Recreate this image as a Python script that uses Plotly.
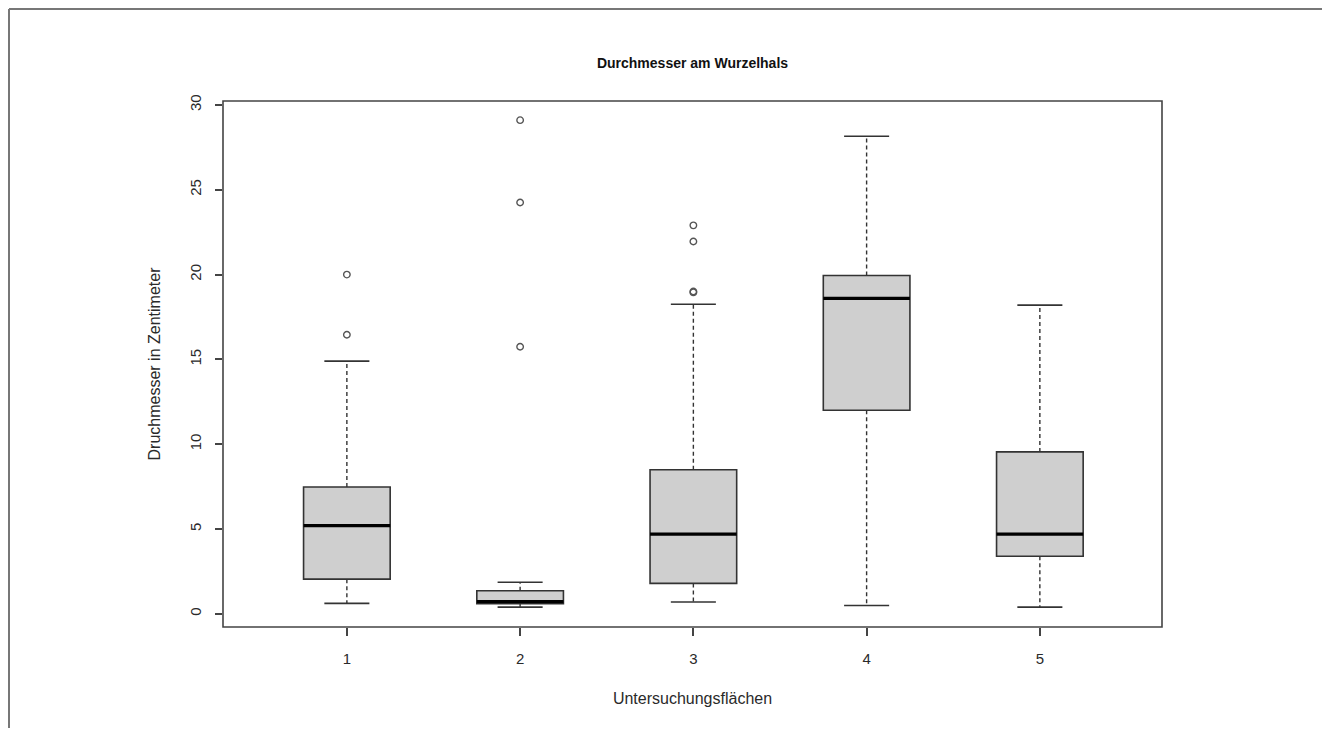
import plotly.graph_objects as go

# ---- data ----
groups = [1, 2, 3, 4, 5]
lower_whisker = [0.62, 0.40, 0.70, 0.50, 0.40]
q1 = [2.05, 0.60, 1.80, 12.00, 3.40]
median = [5.20, 0.72, 4.70, 18.60, 4.70]
q3 = [7.48, 1.37, 8.50, 19.95, 9.55]
upper_whisker = [14.90, 1.87, 18.25, 28.15, 18.20]

outlier_group = [1, 1, 2, 2, 2, 3, 3, 3, 3]
outlier_value = [16.45, 20.0, 15.75, 24.25, 29.1, 18.95, 19.0, 21.95, 22.9]

y_ticks = [0, 5, 10, 15, 20, 25, 30]
x_tick_labels = ["1", "2", "3", "4", "5"]

title_text = "Durchmesser am Wurzelhals"
x_title = "Untersuchungsflächen"
y_title = "Druchmesser in Zentimeter"

BOX_HALF = 0.25
CAP_HALF = 0.13
LINE_COL = "#333333"
FILL_COL = "#cfcfcf"
FONT = "Liberation Sans, Arial, sans-serif"
TXT = "#2a2a2a"

fig = go.Figure()
shapes = []

for g, lo, a, m, b, hi in zip(groups, lower_whisker, q1, median, q3, upper_whisker):
    # dashed whiskers
    fig.add_trace(go.Scatter(x=[g, g, None, g, g], y=[b, hi, None, a, lo], mode="lines",
                             line=dict(color=LINE_COL, width=1.4, dash="4px,3px"),
                             showlegend=False, hoverinfo="skip"))
    # caps
    fig.add_trace(go.Scatter(x=[g - CAP_HALF, g + CAP_HALF, None, g - CAP_HALF, g + CAP_HALF],
                             y=[hi, hi, None, lo, lo], mode="lines",
                             line=dict(color=LINE_COL, width=1.6),
                             showlegend=False, hoverinfo="skip"))
    # box
    shapes.append(dict(type="rect", xref="x", yref="y", x0=g - BOX_HALF, x1=g + BOX_HALF,
                       y0=a, y1=b, fillcolor=FILL_COL, line=dict(color=LINE_COL, width=1.6),
                       layer="above"))
    # median
    shapes.append(dict(type="line", xref="x", yref="y", x0=g - BOX_HALF, x1=g + BOX_HALF,
                       y0=m, y1=m, line=dict(color="#000000", width=3.2), layer="above"))

fig.add_trace(go.Scatter(x=outlier_group, y=outlier_value, mode="markers",
                         marker=dict(symbol="circle-open", size=6.5, color="#555555",
                                     line=dict(width=1.4, color="#555555")),
                         showlegend=False, hoverinfo="skip"))

# plot frame (R box())
shapes.append(dict(type="rect", xref="paper", yref="paper", x0=0, x1=1, y0=0, y1=1,
                   line=dict(color="#444444", width=1.6), layer="above"))

# outer image frame (top & left)
W, H = 1314, 720
ML, MR, MT, MB = 215, 160, 93, 101
pw, ph = W - ML - MR, H - MT - MB
px0 = (1 - ML) / pw
py0 = 1 + (MT - 1) / ph
shapes.append(dict(type="line", xref="paper", yref="paper", x0=px0, x1=(W - ML) / pw,
                   y0=py0, y1=py0, line=dict(color="#777777", width=2)))
shapes.append(dict(type="line", xref="paper", yref="paper", x0=px0, x1=px0,
                   y0=py0, y1=-(MB) / ph, line=dict(color="#777777", width=2)))

fig.update_layout(
    width=W, height=H, autosize=False,
    margin=dict(l=ML, r=MR, t=MT, b=MB, pad=0),
    paper_bgcolor="white", plot_bgcolor="white",
    shapes=shapes,
    title=dict(text="<b>" + title_text + "</b>", x=(ML + pw / 2) / W, xanchor="center",
               y=1 - 55 / H, yanchor="middle",
               font=dict(family=FONT, size=14, color="#111111")),
    font=dict(family=FONT, size=15, color=TXT),
)

fig.update_xaxes(range=[0.285, 5.705], tickvals=groups, ticktext=x_tick_labels,
                 ticks="outside", ticklen=8, tickcolor="#444444", tickwidth=1.5,
                 ticklabelstandoff=10,
                 showgrid=False, zeroline=False, showline=False,
                 tickfont=dict(family=FONT, size=15, color=TXT),
                 title=dict(text=x_title, standoff=26,
                            font=dict(family=FONT, size=16, color=TXT)))
fig.update_yaxes(range=[-0.77, 30.23], tickvals=y_ticks,
                 ticks="outside", ticklen=7, tickcolor="#444444", tickwidth=1.5,
                 ticklabelstandoff=8,
                 showgrid=False, zeroline=False, showline=False, tickangle=-90,
                 tickfont=dict(family=FONT, size=15, color=TXT),
                 title=dict(text=y_title, standoff=22,
                            font=dict(family=FONT, size=16, color=TXT)))

fig.write_html("out.html")
